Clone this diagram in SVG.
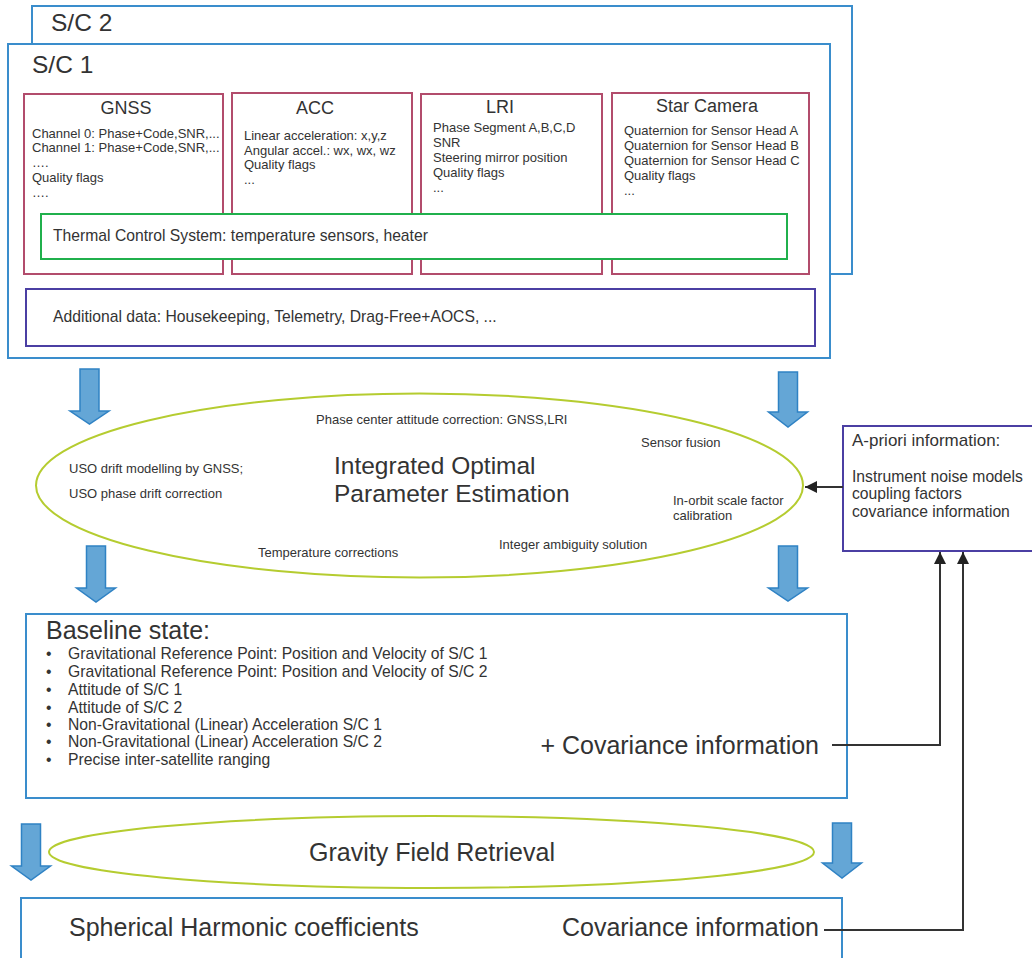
<svg xmlns="http://www.w3.org/2000/svg" width="1032" height="958" viewBox="0 0 1032 958">
<defs>
<style>
text{font-family:"Liberation Sans",Arial,sans-serif;fill:#333333}
.blue{fill:#ffffff;stroke:#3a8dcc;stroke-width:2}
.maroon{fill:#ffffff;stroke:#b24c6c;stroke-width:2}
.green{fill:#ffffff;stroke:#20b04c;stroke-width:2}
.navy{fill:#ffffff;stroke:#4b3fa3;stroke-width:2}
.ell{fill:none;stroke:#b5cc30;stroke-width:2}
.arr{fill:#64a6d6;stroke:#2f82c4;stroke-width:1.5}
.conn{fill:none;stroke:#333333;stroke-width:2}
.big{font-size:25px}
.sc{font-size:24.5px}
.title{font-size:18px}
.sm{font-size:13px}
.md{font-size:15.7px}
</style>
<marker id="ah" viewBox="0 0 10 10" refX="10" refY="5" markerWidth="19" markerHeight="12" markerUnits="userSpaceOnUse" orient="auto">
<path d="M0,0 L10,5 L0,10 z" fill="#222222"/>
</marker>
</defs>
<rect width="1032" height="958" fill="#ffffff"/>

<g id="sc2">
<rect class="blue" x="32" y="6" width="820" height="268"/>
<text class="sc" x="51" y="31">S/C 2</text>
</g>

<g id="sc1">
<rect class="blue" x="8" y="44" width="822" height="314"/>
<text class="sc" x="32" y="73">S/C 1</text>
</g>

<g id="gnss">
<rect class="maroon" x="24" y="94" width="199" height="180"/>
<text class="title" x="126" y="114" text-anchor="middle">GNSS</text>
<text class="sm" x="32" y="138">Channel 0: Phase+Code,SNR,...</text>
<text class="sm" x="32" y="152">Channel 1: Phase+Code,SNR,...</text>
<text class="sm" x="32" y="167">….</text>
<text class="sm" x="32" y="182">Quality flags</text>
<text class="sm" x="32" y="197">….</text>
</g>

<g id="acc">
<rect class="maroon" x="232" y="93" width="180" height="181"/>
<text class="title" x="315" y="114" text-anchor="middle">ACC</text>
<text class="sm" x="244" y="140">Linear acceleration: x,y,z</text>
<text class="sm" x="244" y="155">Angular accel.: wx, wx, wz</text>
<text class="sm" x="244" y="169">Quality flags</text>
<text class="sm" x="244" y="184">...</text>
</g>

<g id="lri">
<rect class="maroon" x="421" y="94" width="181" height="180"/>
<text class="title" x="500" y="113" text-anchor="middle">LRI</text>
<text class="sm" x="433" y="132">Phase Segment A,B,C,D</text>
<text class="sm" x="433" y="147">SNR</text>
<text class="sm" x="433" y="162">Steering mirror position</text>
<text class="sm" x="433" y="177">Quality flags</text>
<text class="sm" x="433" y="192">...</text>
</g>

<g id="starcam">
<rect class="maroon" x="612" y="93" width="197" height="181"/>
<text class="title" x="707" y="112" text-anchor="middle">Star Camera</text>
<text class="sm" x="624" y="135">Quaternion for Sensor Head A</text>
<text class="sm" x="624" y="150">Quaternion for Sensor Head B</text>
<text class="sm" x="624" y="165">Quaternion for Sensor Head C</text>
<text class="sm" x="624" y="180">Quality flags</text>
<text class="sm" x="624" y="195">...</text>
</g>

<g id="thermal">
<rect class="green" x="41" y="214" width="746" height="45"/>
<text class="md" x="53" y="241">Thermal Control System: temperature sensors, heater</text>
</g>

<g id="additional">
<rect class="navy" x="26" y="289" width="789" height="57"/>
<text class="md" x="53" y="322">Additional data: Housekeeping, Telemetry, Drag-Free+AOCS, ...</text>
</g>

<g id="estimation">
<ellipse class="ell" cx="419.5" cy="485.5" rx="383.5" ry="92"/>
<text class="sm" x="316" y="424">Phase center attitude correction: GNSS,LRI</text>
<text class="sm" x="641" y="447">Sensor fusion</text>
<text class="sm" x="69" y="473">USO drift modelling by GNSS;</text>
<text class="sm" x="69" y="498">USO phase drift correction</text>
<text x="334" y="474" style="font-size:24.5px">Integrated Optimal</text>
<text x="334" y="502" style="font-size:24.5px">Parameter Estimation</text>
<text class="sm" x="673" y="505">In-orbit scale factor</text>
<text class="sm" x="673" y="520">calibration</text>
<text class="sm" x="499" y="549">Integer ambiguity solution</text>
<text class="sm" x="258" y="557">Temperature corrections</text>
</g>

<g id="apriori">
<rect class="navy" x="843" y="426" width="200" height="125"/>
<text x="852" y="446" style="font-size:17px">A-priori information:</text>
<text class="md" x="852" y="482">Instrument noise models</text>
<text class="md" x="852" y="499">coupling factors</text>
<text class="md" x="852" y="517">covariance information</text>
</g>

<g id="baseline">
<rect class="blue" x="26" y="614" width="821" height="184"/>
<text class="big" x="46" y="639">Baseline state:</text>
<g class="md">
<text x="46" y="659">•</text><text x="68" y="659">Gravitational Reference Point: Position and Velocity of S/C 1</text>
<text x="46" y="677">•</text><text x="68" y="677">Gravitational Reference Point: Position and Velocity of S/C 2</text>
<text x="46" y="695">•</text><text x="68" y="695">Attitude of S/C 1</text>
<text x="46" y="713">•</text><text x="68" y="713">Attitude of S/C 2</text>
<text x="46" y="730">•</text><text x="68" y="730">Non-Gravitational (Linear) Acceleration S/C 1</text>
<text x="46" y="747">•</text><text x="68" y="747">Non-Gravitational (Linear) Acceleration S/C 2</text>
<text x="46" y="765">•</text><text x="68" y="765">Precise inter-satellite ranging</text>
</g>
<text class="big" x="819" y="754" text-anchor="end">+ Covariance information</text>
</g>

<g id="gravity">
<ellipse class="ell" cx="431.5" cy="852" rx="382.5" ry="36"/>
<text class="big" x="432" y="861" text-anchor="middle">Gravity Field Retrieval</text>
</g>

<g id="result">
<rect class="blue" x="21" y="898" width="821" height="80"/>
<text class="big" x="69" y="936">Spherical Harmonic coefficients</text>
<text class="big" x="819" y="936" text-anchor="end">Covariance information</text>
</g>

<g id="connectors">
<path class="arr" d="M80,369 H99 V411 H109 L89.5,424 L70,411 H80 Z"/>
<path class="arr" d="M778.5,372 H797.5 V412 H807.5 L788,427 L768.5,412 H778.5 Z"/>
<path class="arr" d="M86.5,546 H105.5 V588 H115.5 L96,602 L76.5,588 H86.5 Z"/>
<path class="arr" d="M778.5,546 H797.5 V588 H807.5 L788,601 L768.5,588 H778.5 Z"/>
<path class="arr" d="M21.5,824 H40.5 V866 H50.5 L31,880 L11.5,866 H21.5 Z"/>
<path class="arr" d="M832.5,823 H851.5 V863 H861.5 L842,878 L822.5,863 H832.5 Z"/>
<path class="conn" d="M843,487 H805" marker-end="url(#ah)"/>
<path class="conn" d="M832,745 H940 V552" marker-end="url(#ah)"/>
<path class="conn" d="M824,930 H963 V552" marker-end="url(#ah)"/>
</g>
</svg>
